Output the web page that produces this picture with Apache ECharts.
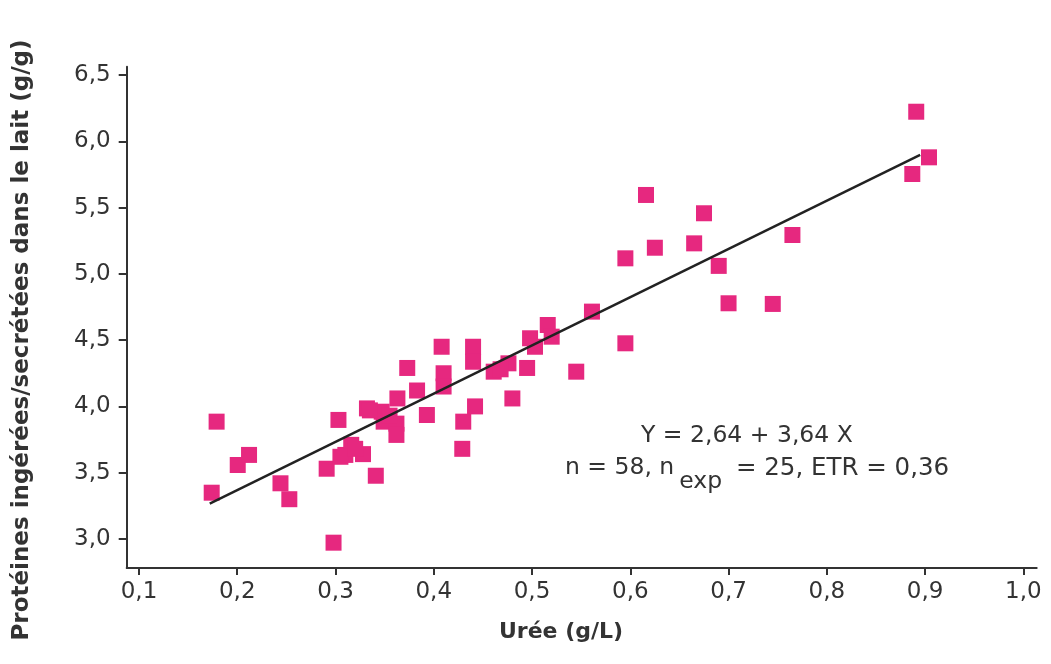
<!DOCTYPE html>
<html>
<head>
<meta charset="utf-8">
<script src="https://cdn.jsdelivr.net/npm/echarts@6/dist/echarts.min.js"></script>
<style>html,body{margin:0;padding:0;background:#fff}#c{width:1051px;height:664px}</style>
</head>
<body>
<div id="c"></div>
<script>
// Urée (g/L) vs Protéines ingérées/secrétées (g/g)
var ureeX = [0.174,0.179,0.2005,0.212,0.244,0.253,0.291,0.298,0.303,0.31,0.316,0.328,0.332,0.341,0.347,0.349,0.362,0.362,0.363,0.373,0.383,0.393,0.408,0.41,0.41,0.429,0.43,0.44,0.44,0.442,0.461,0.476,0.48,0.495,0.498,0.503,0.516,0.52,0.545,0.561,0.595,0.595,0.616,0.625,0.665,0.675,0.69,0.70,0.745,0.765,0.887,0.891,0.904,0.305,0.32,0.468,0.335,0.355];
var proteinesY = [3.349,3.885,3.558,3.634,3.42,3.30,3.53,2.972,3.898,3.634,3.71,3.64,3.985,3.477,3.96,3.885,3.87,3.785,4.06,4.29,4.12,3.935,4.45,4.25,4.15,3.68,3.885,4.45,4.337,4.0,4.262,4.325,4.06,4.29,4.514,4.45,4.614,4.526,4.262,4.715,4.476,5.117,5.595,5.197,5.23,5.457,5.06,4.778,4.773,5.293,5.753,6.223,5.879,3.62,3.68,4.28,3.97,3.93];
var regIntercept = 2.64;
var regSlope = 3.64;
var regRangeX = [0.172, 0.895];
var xTicks = [0.1,0.2,0.3,0.4,0.5,0.6,0.7,0.8,0.9,1.0];
var yTicks = [3.0,3.5,4.0,4.5,5.0,5.5,6.0,6.5];

var pts = ureeX.map(function(x,i){return [x, proteinesY[i]];});
var reg = regRangeX.map(function(x){return [x, regIntercept + regSlope*x];});
function fr(v){return v.toFixed(1).replace('.', ',');}

var FONT = 'DejaVu Sans';
var chart = echarts.init(document.getElementById('c'), null, {renderer:'canvas'});
chart.setOption({
  animation:false,
  backgroundColor:'#fff',
  grid:{left:126.7, right:14.3, top:66.7, bottom:96},
  xAxis:{
    type:'value', min:0.0875, max:1.0136,
    axisLine:{show:true, lineStyle:{color:'#333', width:2}},
    axisTick:{show:true, length:7, lineStyle:{color:'#333', width:2}, customValues:xTicks},
    axisLabel:{fontFamily:FONT, fontSize:23, color:'#333', margin:13, customValues:xTicks, formatter:fr},
    splitLine:{show:false}
  },
  yAxis:{
    type:'value', min:2.781, max:6.5626,
    axisLine:{show:true, lineStyle:{color:'#333', width:2}},
    axisTick:{show:true, length:8, lineStyle:{color:'#333', width:2}, customValues:yTicks},
    axisLabel:{fontFamily:FONT, fontSize:23, color:'#333', margin:16, customValues:yTicks, formatter:fr},
    splitLine:{show:false}
  },
  series:[
    {type:'scatter', data:pts, symbol:'rect', symbolSize:16, itemStyle:{color:'#E6287F', opacity:1}, z:2},
    {type:'line', data:reg, symbol:'none', lineStyle:{color:'#222', width:2.5}, z:3}
  ],
  graphic:[
    {type:'text', x:561, y:632, style:{text:'Urée (g/L)', font:'bold 22px "DejaVu Sans"', fill:'#333', align:'center', verticalAlign:'middle'}},
    {type:'text', x:22, y:340, rotation:Math.PI/2, style:{text:'Protéines ingérées/secrétées dans le lait (g/g)', font:'bold 23px "DejaVu Sans"', fill:'#333', align:'center', verticalAlign:'middle'}},
    {type:'text', left:641, top:424, style:{text:'Y = 2,64 + 3,64 X', font:'23.5px "DejaVu Sans"', fill:'#333'}},
    {type:'text', left:565, top:456, style:{
      text:'{a|n = 58, n}{s|exp}{b| = 25, ETR = 0,36}', fill:'#333',
      rich:{a:{fontFamily:FONT, fontSize:23.5, lineHeight:26, verticalAlign:'top', fill:'#333'},
            s:{fontFamily:FONT, fontSize:23.5, lineHeight:26, verticalAlign:'top', padding:[14,0,0,5], fill:'#333'},
            b:{fontFamily:FONT, fontSize:24.5, lineHeight:26, verticalAlign:'top', padding:[0,0,0,6], fill:'#333'}}
    }}
  ]
});
</script>
</body>
</html>
